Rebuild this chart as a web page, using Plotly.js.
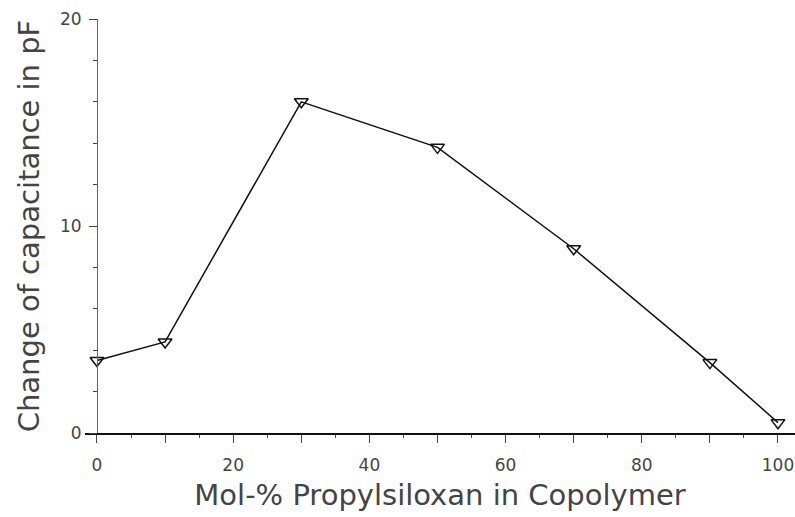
<!DOCTYPE html>
<html>
<head>
<meta charset="utf-8">
<script src="https://cdn.plot.ly/plotly-3.0.1.min.js"></script>
<style>html,body{margin:0;padding:0;background:#fff;}#chart{width:795px;height:517px;}</style>
</head>
<body>
<div id="chart"></div>
<script>
const molPct = [0, 10, 30, 50, 70, 90, 100];
const capChange = [3.5, 4.4, 16.0, 13.8, 8.9, 3.4, 0.5];
const xTickVals = [0, 10, 20, 30, 40, 50, 60, 70, 80, 90, 100];
const xTickText = ['0', '', '20', '', '40', '', '60', '', '80', '', '100'];
const yTickVals = [0, 10, 20];
const yTickText = ['0', '10', '20'];
const xTitle = 'Mol-% Propylsiloxan in Copolymer';
const yTitle = 'Change of capacitance in pF';

const xMin = -1.76, xMax = 102.5;
const textColor = '#444';
const fontFam = 'DejaVu Sans, sans-serif';

const trace = {
  x: molPct, y: capChange, type: 'scatter', mode: 'lines+markers',
  line: {color: '#111', width: 1.5},
  marker: {symbol: 'triangle-down-open', size: 12, color: '#111', line: {width: 1.5, color: '#111'}},
  cliponaxis: false, showlegend: false
};

const layout = {
  width: 795, height: 517,
  margin: {l: 85, r: 0, t: 19, b: 84},
  paper_bgcolor: '#fff', plot_bgcolor: '#fff',
  font: {family: fontFam, color: textColor},
  xaxis: {
    range: [xMin, xMax], showgrid: false, zeroline: false,
    showline: true, linecolor: '#111', linewidth: 2,
    tickvals: xTickVals, ticktext: xTickText,
    ticks: 'outside', ticklen: 8, tickwidth: 1, tickcolor: '#444',
    minor: {dtick: 5, tick0: 0, ticks: 'outside', ticklen: 3, tickcolor: '#444', tickwidth: 1},
    ticklabelstandoff: 8,
    tickfont: {size: 17, color: textColor, family: fontFam},
    title: {text: xTitle, font: {size: 29, color: textColor, family: fontFam}, standoff: 10}
  },
  yaxis: {
    range: [0, 20], showgrid: false, zeroline: false,
    anchor: 'free', position: (0 - xMin) / (xMax - xMin),
    showline: true, linecolor: '#666', linewidth: 1,
    tickvals: yTickVals, ticktext: yTickText,
    ticks: 'outside', ticklen: 8, tickwidth: 1, tickcolor: '#444',
    minor: {dtick: 2, tick0: 0, ticks: 'outside', ticklen: 4, tickcolor: '#444', tickwidth: 1},
    ticklabelstandoff: 4,
    tickfont: {size: 17, color: textColor, family: fontFam},
    title: {text: yTitle, font: {size: 29, color: textColor, family: fontFam}, standoff: 10}
  }
};

Plotly.newPlot('chart', [trace], layout, {displayModeBar: false, staticPlot: true});
</script>
</body>
</html>
